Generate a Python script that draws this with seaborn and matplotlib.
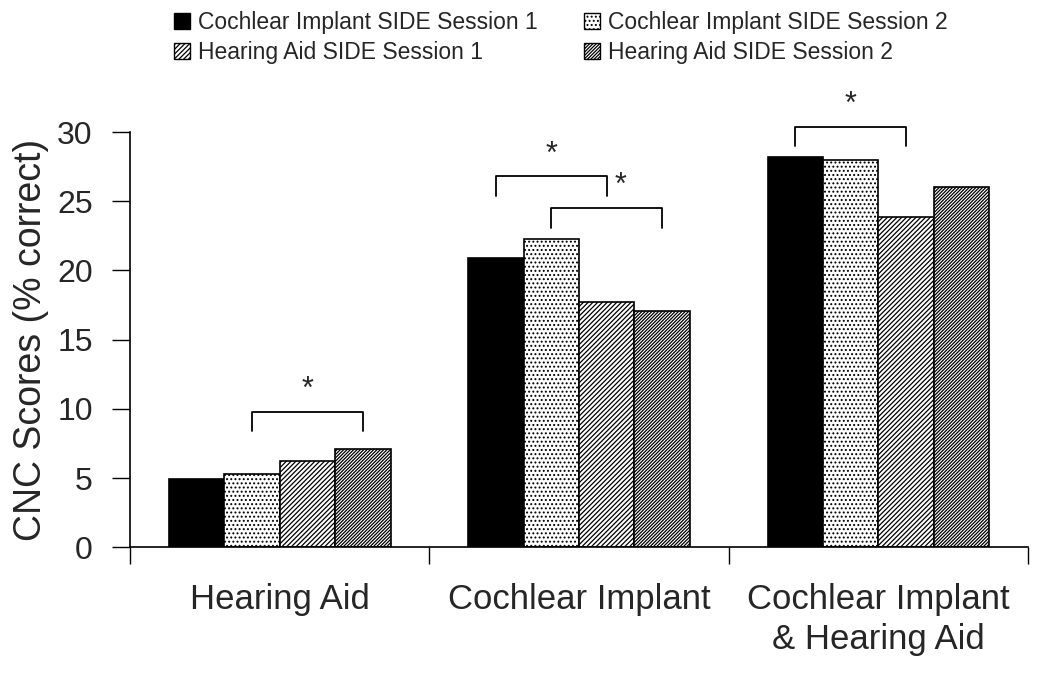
import numpy as np
import matplotlib
matplotlib.use("Agg")
import matplotlib.pyplot as plt
import pandas as pd
import seaborn as sns
from matplotlib.patches import Patch

sns.set_style("white")
plt.rcParams['font.family'] = ['Liberation Sans', 'DejaVu Sans']
plt.rcParams['hatch.linewidth'] = 0.9

# data
conditions = ["Hearing Aid", "Cochlear Implant", "Cochlear Implant\n& Hearing Aid"]
series = ["Cochlear Implant SIDE Session 1", "Cochlear Implant SIDE Session 2",
          "Hearing Aid SIDE Session 1", "Hearing Aid SIDE Session 2"]
ci_s1 = [4.9, 20.9, 28.2]
ci_s2 = [5.3, 22.3, 28.0]
ha_s1 = [6.2, 17.7, 23.9]
ha_s2 = [7.1, 17.1, 26.0]

# significance brackets: (condition index, series a, series b, height)
brackets = [(0, 1, 3, 9.8), (1, 0, 2, 26.8), (1, 1, 3, 24.5), (2, 0, 2, 30.4)]

df = pd.DataFrame({
    "condition": conditions * 4,
    "series": np.repeat(series, 3),
    "score": ci_s1 + ci_s2 + ha_s1 + ha_s2,
})

fills = ["black", "white", "white", "white"]
hatches = [None, "....", "///////", "//////////"]

fig = plt.figure(figsize=(10.5, 6.74), dpi=100)
ax = fig.add_axes([0.124, 0.188, 0.855, 0.616])

sns.barplot(data=df, x="condition", y="score", hue="series", hue_order=series,
            order=conditions, width=0.74, errorbar=None, legend=False, ax=ax,
            edgecolor="black", linewidth=1.2)

for cont, fc, h in zip(ax.containers, fills, hatches):
    for bar in cont:
        bar.set_facecolor(fc)
        bar.set_edgecolor("black")
        if h:
            bar.set_hatch(h)

# bracket positions from the bars themselves
for i, (ci, a, b, y) in enumerate(brackets):
    ba = ax.containers[a][ci]
    bb = ax.containers[b][ci]
    xa = ba.get_x() + ba.get_width() / 2
    xb = bb.get_x() + bb.get_width() / 2
    ax.plot([xa, xa, xb, xb], [y - 1.4, y, y, y - 1.4], color="black", lw=1.3,
            clip_on=False)
    xs = (xa + xb) / 2
    if i == 2:
        # the original nudges this star right, clear of the other bracket
        xs += 0.045
    ax.text(xs, y + 0.5, "*", ha="center", va="bottom", fontsize=22)

ax.set_ylim(0, 30)
ax.set_xlim(-0.5, 2.5)
ax.set_yticks([0, 5, 10, 15, 20, 25, 30])
ax.set_xticks([-0.5, 0.5, 1.5, 2.5], minor=True)
ax.tick_params(axis="x", which="major", length=0, labelsize=25, pad=26)
ax.tick_params(axis="x", which="minor", length=12, width=1, direction="out",
               color="black", bottom=True)
ax.tick_params(axis="y", length=13, width=1, direction="out", color="black",
               labelsize=23, left=True, pad=14)
for lab in ax.get_xticklabels():
    lab.set_linespacing(1.25)
ax.set_xlabel("")
ax.set_ylabel("CNC Scores (% correct)", fontsize=27, labelpad=6)

sns.despine(ax=ax)
for s in ["left", "bottom"]:
    ax.spines[s].set_color("black")
    ax.spines[s].set_linewidth(1.2)

handles = [Patch(facecolor=fc, edgecolor="black", hatch=h, label=lab)
           for fc, h, lab in zip(fills, hatches, series)]
# matplotlib fills legend columns first; reorder so rows read like the original
order = [0, 2, 1, 3]
fig.legend(handles=[handles[i] for i in order], loc="upper left",
           bbox_to_anchor=(0.155, 1.0), borderaxespad=0.1, ncol=2,
           frameon=False, fontsize=16.5, handlelength=0.7, handleheight=0.7,
           handletextpad=0.35, columnspacing=2.0, labelspacing=0.3)

fig.savefig("out.png", dpi=100)
